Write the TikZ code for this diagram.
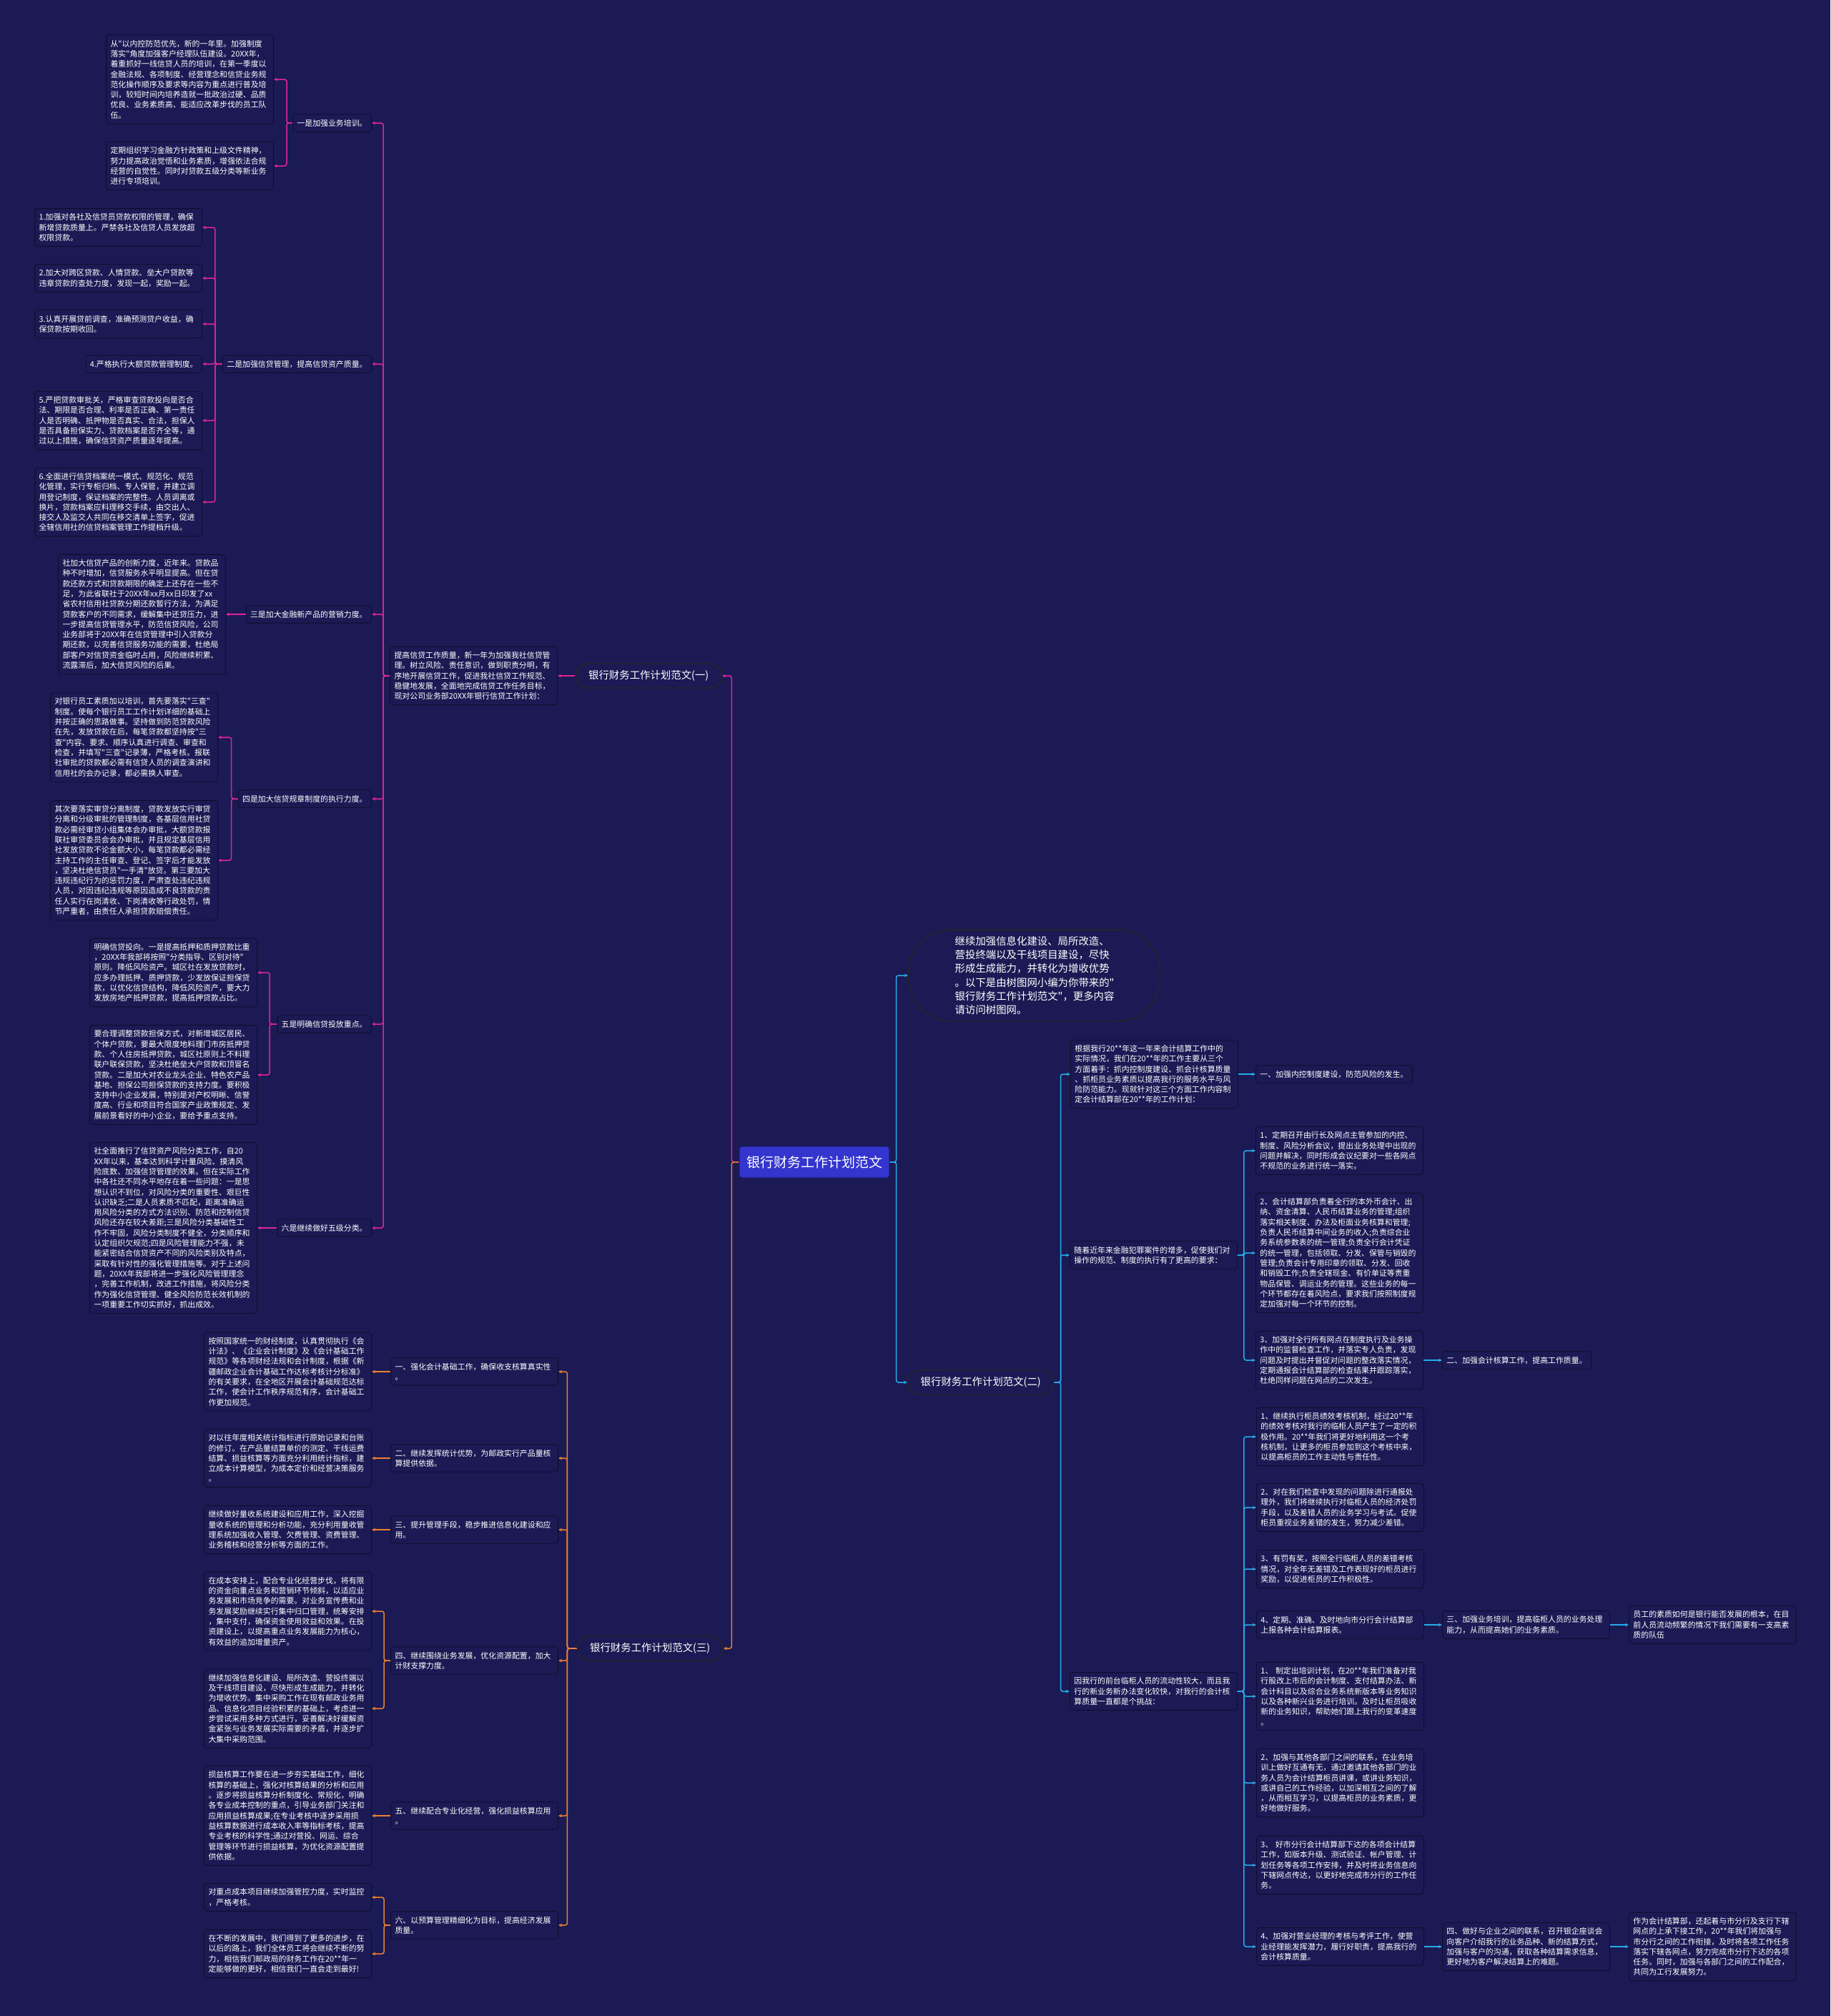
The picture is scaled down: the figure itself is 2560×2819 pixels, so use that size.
\documentclass[tikz,border=0pt]{standalone}
\usepackage{fontspec}
\usepackage{tikz}
\usetikzlibrary{arrows.meta}
\newfontfamily\cjk{Noto Sans CJK SC}
\definecolor{bg}{RGB}{27,26,84}
\definecolor{boxline}{RGB}{14,14,46}
\definecolor{branchone}{RGB}{222,38,150}
\definecolor{branchtwo}{RGB}{38,172,232}
\definecolor{branchthree}{RGB}{236,128,48}
\definecolor{rootblue}{RGB}{52,52,206}
\newcommand{\leaffont}{\cjk\fontsize{10.9}{14.3}\selectfont}
\newcommand{\topicfont}{\cjk\fontsize{14.4}{19.3}\selectfont}

\begin{document}
\begin{tikzpicture}[
    x=1pt, y=-1pt,
    every node/.style={text=white},
    leaf/.style={draw=boxline, fill=bg, line width=0.9pt, rounded corners=4pt,
                 font=\leaffont, align=left, inner xsep=6pt, inner ysep=7pt},
    wide/.style={leaf, text width=222pt},
    topic/.style={draw=black!85, fill=bg, line width=1.4pt, rounded corners=17pt,
                  font=\topicfont, minimum height=34pt, inner xsep=18pt},
    link/.style={line width=1.5pt, rounded corners=3pt, -{Stealth[length=5pt, width=4.5pt]}},
    onelink/.style={link, draw=branchone},
    twolink/.style={link, draw=branchtwo},
    threelink/.style={link, draw=branchthree},
]
\useasboundingbox (0,0) rectangle (2560,2819);
\fill[bg] (0,0) rectangle (2560,2819);

% root and first level
\node[draw=rootblue!55!black, fill=rootblue, rounded corners=4pt, line width=1.2pt,
      font=\cjk\fontsize{19}{22}\selectfont, minimum width=210pt, minimum height=44pt]
      (R) at (1139,1625) {银行财务工作计划范文};
\node[topic, anchor=east] (T1) at (1010,945) {银行财务工作计划范文(一)};
\node[topic, anchor=west] (T2) at (1269,1933) {银行财务工作计划范文(二)};
\node[topic, anchor=east] (T3) at (1012,2305) {银行财务工作计划范文(三)};
\node[draw=black!85, fill=bg, line width=1.4pt, rounded corners=60pt, font=\topicfont,
      text width=222pt, align=left, inner xsep=65pt, inner ysep=9pt, anchor=west]
      (I) at (1270,1364) {继续加强信息化建设、局所改造、\\
营投终端以及干线项目建设，尽快\\
形成生成能力，并转化为增收优势\\
。以下是由树图网小编为你带来的"\\
银行财务工作计划范文"，更多内容\\
请访问树图网。};

\draw[onelink] (R.west) -- ++(-10,0) |- (T1.east);
\draw[threelink] (R.west) -- ++(-10,0) |- (T3.east);
\draw[twolink] (R.east) -- ++(9,0) |- (I.west);
\draw[twolink] (R.east) -- ++(9,0) |- (T2.east -| T2.west);

% branch (一)
\node[wide, anchor=east] (P) at (780,945) {提高信贷工作质量，新一年为加强我社信贷管\\
理。树立风险、责任意识，做到职责分明，有\\
序地开展信贷工作，促进我社信贷工作规范、\\
稳健地发展，全面地完成信贷工作任务目标，\\
现对公司业务部20XX年银行信贷工作计划：};
\node[leaf, anchor=east] (N1) at (520,172) {一是加强业务培训。};
\node[leaf, anchor=east] (N2) at (520,509) {二是加强信贷管理，提高信贷资产质量。};
\node[leaf, anchor=east] (N3) at (520,859) {三是加大金融新产品的营销力度。};
\node[leaf, anchor=east] (N4) at (520,1117) {四是加大信贷规章制度的执行力度。};
\node[leaf, anchor=east] (N5) at (520,1432) {五是明确信贷投放重点。};
\node[leaf, anchor=east] (N6) at (520,1717) {六是继续做好五级分类。};

\node[wide, anchor=east] (A1) at (383,111) {从"以内控防范优先，新的一年里。加强制度\\
落实"角度加强客户经理队伍建设。20XX年，\\
着重抓好一线信贷人员的培训，在第一季度以\\
金融法规、各项制度、经营理念和信贷业务规\\
范化操作顺序及要求等内容为重点进行普及培\\
训，较短时间内培养造就一批政治过硬、品质\\
优良、业务素质高、能适应改革步伐的员工队\\
伍。};
\node[wide, anchor=east] (A2) at (383,232) {定期组织学习金融方针政策和上级文件精神，\\
努力提高政治觉悟和业务素质，增强依法合规\\
经营的自觉性。同时对贷款五级分类等新业务\\
进行专项培训。};

\node[wide, anchor=east] (B1) at (283,318) {1.加强对各社及信贷员贷款权限的管理，确保\\
新增贷款质量上。严禁各社及信贷人员发放超\\
权限贷款。};
\node[wide, anchor=east] (B2) at (283,389) {2.加大对跨区贷款、人情贷款、垒大户贷款等\\
违章贷款的查处力度，发现一起，奖励一起。};
\node[wide, anchor=east] (B3) at (283,453) {3.认真开展贷前调查，准确预测贷户收益，确\\
保贷款按期收回。};
\node[leaf, anchor=east] (B4) at (283,509) {4.严格执行大额贷款管理制度。};
\node[wide, anchor=east] (B5) at (283,588) {5.严把贷款审批关，严格审查贷款投向是否合\\
法、期限是否合理、利率是否正确、第一责任\\
人是否明确、抵押物是否真实、合法，担保人\\
是否具备担保实力、贷款档案是否齐全等，通\\
过以上措施，确保信贷资产质量逐年提高。};
\node[wide, anchor=east] (B6) at (283,702) {6.全面进行信贷档案统一模式、规范化、规范\\
化管理，实行专柜归档、专人保管，并建立调\\
用登记制度，保证档案的完整性。人员调离或\\
换片，贷款档案应料理移交手续，由交出人、\\
接交人及监交人共同在移交清单上签字，促进\\
全辖信用社的信贷档案管理工作提档升级。};

\node[wide, anchor=east] (C1) at (316,859) {社加大信贷产品的创新力度，近年来。贷款品\\
种不时增加，信贷服务水平明显提高。但在贷\\
款还款方式和贷款期限的确定上还存在一些不\\
足，为此省联社于20XX年xx月xx日印发了xx\\
省农村信用社贷款分期还款暂行方法，为满足\\
贷款客户的不同需求，缓解集中还贷压力，进\\
一步提高信贷管理水平，防范信贷风险，公司\\
业务部将于20XX年在信贷管理中引入贷款分\\
期还款，以完善信贷服务功能的需要，杜绝局\\
部客户对信贷资金临时占用，风险继续积累、\\
流露滞后，加大信贷风险的后果。};

\node[wide, anchor=east] (D1) at (305,1031) {对银行员工素质加以培训，首先要落实"三查"\\
制度。使每个银行员工工作计划详细的基础上\\
并按正确的思路做事。坚持做到防范贷款风险\\
在先，发放贷款在后，每笔贷款都坚持按"三\\
查"内容、要求、顺序认真进行调查、审查和\\
检查，并填写"三查"记录薄，严格考核。报联\\
社审批的贷款都必需有信贷人员的调查演讲和\\
信用社的会办记录，都必需换人审查。};
\node[wide, anchor=east] (D2) at (305,1203) {其次要落实审贷分离制度，贷款发放实行审贷\\
分离和分级审批的管理制度，各基层信用社贷\\
款必需经审贷小组集体会办审批，大额贷款报\\
联社审贷委员会会办审批，并且规定基层信用\\
社发放贷款不论金额大小，每笔贷款都必需经\\
主持工作的主任审查、登记、签字后才能发放\\
，坚决杜绝信贷员"一手清"放贷。第三要加大\\
违规违纪行为的惩罚力度，严肃查处违纪违规\\
人员，对因违纪违规等原因造成不良贷款的责\\
任人实行在岗清收、下岗清收等行政处罚，情\\
节严重者，由责任人承担贷款赔偿责任。};

\node[wide, anchor=east] (E1) at (360,1360) {明确信贷投向。一是提高抵押和质押贷款比重\\
，20XX年我部将按照"分类指导、区别对待"\\
原则。降低风险资产。城区社在发放贷款时，\\
应多办理抵押、质押贷款，少发放保证担保贷\\
款，以优化信贷结构，降低风险资产，要大力\\
发放房地产抵押贷款，提高抵押贷款占比。};
\node[wide, anchor=east] (E2) at (360,1503) {要合理调整贷款担保方式，对新增城区居民、\\
个体户贷款，要最大限度地料理门市房抵押贷\\
款、个人住房抵押贷款，城区社原则上不料理\\
联户联保贷款，坚决杜绝垒大户贷款和顶冒名\\
贷款。二是加大对农业龙头企业、特色农产品\\
基地、担保公司担保贷款的支持力度。要积极\\
支持中小企业发展，特别是对产权明晰、信誉\\
度高、行业和项目符合国家产业政策规定、发\\
展前景看好的中小企业，要给予重点支持。};

\node[wide, anchor=east] (F1) at (360,1717) {社全面推行了信贷资产风险分类工作，自20\\
XX年以来，基本达到科学计量风险、摸清风\\
险底数、加强信贷管理的效果。但在实际工作\\
中各社还不同水平地存在着一些问题：一是思\\
想认识不到位，对风险分类的重要性、艰巨性\\
认识缺乏;二是人员素质不匹配，距离准确运\\
用风险分类的方式方法识别、防范和控制信贷\\
风险还存在较大差距;三是风险分类基础性工\\
作不牢固，风险分类制度不健全，分类顺序和\\
认定组织欠规范;四是风险管理能力不强，未\\
能紧密结合信贷资产不同的风险类别及特点，\\
采取有针对性的强化管理措施等。对于上述问\\
题，20XX年我部将进一步强化风险管理理念\\
，完善工作机制，改进工作措施，将风险分类\\
作为强化信贷管理、健全风险防范长效机制的\\
一项重要工作切实抓好，抓出成效。};

\draw[onelink] (T1.west) -- (P.east);
\foreach \n in {N1,N2,N3,N4,N5,N6}
    \draw[onelink] (P.west) -- ++(-9,0) |- (\n.east);
\foreach \n in {A1,A2}
    \draw[onelink] (N1.west) -- ++(-8,0) |- (\n.east);
\foreach \n in {B1,B2,B3,B4,B5,B6}
    \draw[onelink] (N2.west) -- ++(-10,0) |- (\n.east);
\draw[onelink] (N3.west) -- (C1.east);
\foreach \n in {D1,D2}
    \draw[onelink] (N4.west) -- ++(-9,0) |- (\n.east);
\foreach \n in {E1,E2}
    \draw[onelink] (N5.west) -- ++(-10,0) |- (\n.east);
\draw[onelink] (N6.west) -- (F1.east);

% branch (三)
\node[wide, anchor=east] (G1) at (781,1918) {一、强化会计基础工作，确保收支核算真实性\\
。};
\node[wide, anchor=east] (G2) at (781,2039) {二、继续发挥统计优势，为邮政实行产品量核\\
算提供依据。};
\node[wide, anchor=east] (G3) at (781,2139) {三、提升管理手段，稳步推进信息化建设和应\\
用。};
\node[wide, anchor=east] (G4) at (781,2322) {四、继续围绕业务发展，优化资源配置，加大\\
计财支撑力度。};
\node[wide, anchor=east] (G5) at (781,2539) {五、继续配合专业化经营，强化损益核算应用\\
。};
\node[wide, anchor=east] (G6) at (781,2692) {六、以预算管理精细化为目标，提高经济发展\\
质量。};

\node[wide, anchor=east] (H1) at (520,1918) {按照国家统一的财经制度，认真贯彻执行《会\\
计法》、《企业会计制度》及《会计基础工作\\
规范》等各项财经法规和会计制度，根据《新\\
疆邮政企业会计基础工作达标考核计分标准》\\
的有关要求，在全地区开展会计基础规范达标\\
工作，使会计工作秩序规范有序，会计基础工\\
作更加规范。};
\node[wide, anchor=east] (H2) at (520,2039) {对以往年度相关统计指标进行原始记录和台账\\
的修订。在产品量结算单价的测定、干线运费\\
结算、损益核算等方面充分利用统计指标，建\\
立成本计算模型，为成本定价和经营决策服务\\
。};
\node[wide, anchor=east] (H3) at (520,2139) {继续做好量收系统建设和应用工作，深入挖掘\\
量收系统的管理和分析功能，充分利用量收管\\
理系统加强收入管理、欠费管理、资费管理、\\
业务稽核和经营分析等方面的工作。};
\node[wide, anchor=east] (H4) at (520,2253) {在成本安排上，配合专业化经营步伐，将有限\\
的资金向重点业务和营销环节倾斜，以适应业\\
务发展和市场竞争的需要。对业务宣传费和业\\
务发展奖励继续实行集中归口管理，统筹安排\\
，集中支付，确保资金使用效益和效果。在投\\
资建设上，以提高重点业务发展能力为核心，\\
有效益的追加增量资产。};
\node[wide, anchor=east] (H5) at (520,2389) {继续加强信息化建设、局所改造、营投终端以\\
及干线项目建设，尽快形成生成能力，并转化\\
为增收优势。集中采购工作在现有邮政业务用\\
品、信息化项目经验积累的基础上，考虑进一\\
步尝试采用多种方式进行，妥善解决好缓解资\\
金紧张与业务发展实际需要的矛盾，并逐步扩\\
大集中采购范围。};
\node[wide, anchor=east] (H6) at (520,2539) {损益核算工作要在进一步夯实基础工作，细化\\
核算的基础上，强化对核算结果的分析和应用\\
。逐步将损益核算分析制度化、常规化，明确\\
各专业成本控制的重点，引导业务部门关注和\\
应用损益核算成果;在专业考核中逐步采用损\\
益核算数据进行成本收入率等指标考核，提高\\
专业考核的科学性;通过对营投、网运、综合\\
管理等环节进行损益核算，为优化资源配置提\\
供依据。};
\node[wide, anchor=east] (H7) at (520,2653) {对重点成本项目继续加强管控力度，实时监控\\
，严格考核。};
\node[wide, anchor=east] (H8) at (520,2732) {在不断的发展中，我们得到了更多的进步，在\\
以后的路上，我们全体员工将会继续不断的努\\
力，相信我们邮政局的财务工作在20**年一\\
定能够做的更好，相信我们一直会走到最好!};

\foreach \n in {G1,G2,G3,G4,G5,G6}
    \draw[threelink] (T3.west) -- ++(-13,0) |- (\n.east);
\draw[threelink] (G1.west) -- (H1.east);
\draw[threelink] (G2.west) -- (H2.east);
\draw[threelink] (G3.west) -- (H3.east);
\draw[threelink] (G4.west) -- ++(-9,0) |- (H4.east);
\draw[threelink] (G4.west) -- ++(-9,0) |- (H5.east);
\draw[threelink] (G5.west) -- (H6.east);
\draw[threelink] (G6.west) -- ++(-9,0) |- (H7.east);
\draw[threelink] (G6.west) -- ++(-9,0) |- (H8.east);

% branch (二)
\node[wide, anchor=west] (S1) at (1497,1502) {根据我行20**年这一年来会计结算工作中的\\
实际情况，我们在20**年的工作主要从三个\\
方面着手：抓内控制度建设、抓会计核算质量\\
、抓柜员业务素质以提高我行的服务水平与风\\
险防范能力。现就针对这三个方面工作内容制\\
定会计结算部在20**年的工作计划：};
\node[wide, anchor=west] (S2) at (1496,1755) {随着近年来金融犯罪案件的增多，促使我们对\\
操作的规范、制度的执行有了更高的要求：};
\node[wide, anchor=west] (S3) at (1496,2365) {因我行的前台临柜人员的流动性较大，而且我\\
行的新业务新办法变化较快，对我行的会计核\\
算质量一直都是个挑战：};

\node[leaf, anchor=west] (K1) at (1756,1502) {一、加强内控制度建设，防范风险的发生。};
\node[wide, anchor=west] (K2) at (1756,1609) {1、定期召开由行长及网点主管参加的内控、\\
制度、风险分析会议，提出业务处理中出现的\\
问题并解决，同时形成会议纪要对一些各网点\\
不规范的业务进行统一落实。};
\node[wide, anchor=west] (K3) at (1756,1752) {2、会计结算部负责着全行的本外币会计、出\\
纳、资金清算、人民币结算业务的管理;组织\\
落实相关制度、办法及柜面业务核算和管理;\\
负责人民币结算中间业务的收入;负责综合业\\
务系统参数表的统一管理;负责全行会计凭证\\
的统一管理，包括领取、分发、保管与销毁的\\
管理;负责会计专用印章的领取、分发、回收\\
和销毁工作;负责全辖现金、有价单证等贵重\\
物品保管、调运业务的管理。这些业务的每一\\
个环节都存在着风险点，要求我们按照制度规\\
定加强对每一个环节的控制。};
\node[wide, anchor=west] (K4) at (1756,1902) {3、加强对全行所有网点在制度执行及业务操\\
作中的监督检查工作，并落实专人负责，发现\\
问题及时提出并督促对问题的整改落实情况，\\
定期通报会计结算部的检查结果并跟踪落实，\\
杜绝同样问题在网点的二次发生。};
\node[leaf, anchor=west] (K5) at (2017,1902) {二、加强会计核算工作，提高工作质量。};

\node[wide, anchor=west] (M1) at (1757,2009) {1、继续执行柜员绩效考核机制，经过20**年\\
的绩效考核对我行的临柜人员产生了一定的积\\
极作用。20**年我们将更好地利用这一个考\\
核机制，让更多的柜员参加到这个考核中来，\\
以提高柜员的工作主动性与责任性。};
\node[wide, anchor=west] (M2) at (1757,2108) {2、对在我们检查中发现的问题除进行通报处\\
理外，我们将继续执行对临柜人员的经济处罚\\
手段，以及差错人员的业务学习与考试。促使\\
柜员重视业务差错的发生，努力减少差错。};
\node[wide, anchor=west] (M3) at (1757,2194) {3、有罚有奖，按照全行临柜人员的差错考核\\
情况，对全年无差错及工作表现好的柜员进行\\
奖励，以促进柜员的工作积极性。};
\node[wide, anchor=west] (M4) at (1757,2272) {4、定期、准确、及时地向市分行会计结算部\\
上报各种会计结算报表。};
\node[wide, anchor=west] (M5) at (1757,2372) {1、~制定出培训计划，在20**年我们准备对我\\
行股改上市后的会计制度、支付结算办法、新\\
会计科目以及综合业务系统新版本等业务知识\\
以及各种新兴业务进行培训。及时让柜员吸收\\
新的业务知识，帮助她们跟上我行的变革速度\\
。};
\node[wide, anchor=west] (M6) at (1757,2493) {2、加强与其他各部门之间的联系，在业务培\\
训上做好互通有无，通过邀请其他各部门的业\\
务人员为会计结算柜员讲课，或讲业务知识，\\
或讲自己的工作经验，以加深相互之间的了解\\
，从而相互学习，以提高柜员的业务素质，更\\
好地做好服务。};
\node[wide, anchor=west] (M7) at (1757,2608) {3、~好市分行会计结算部下达的各项会计结算\\
工作，如版本升级、测试验证、帐户管理、计\\
划任务等各项工作安排，并及时将业务信息向\\
下辖网点传达，以更好地完成市分行的工作任\\
务。};
\node[wide, anchor=west] (M8) at (1757,2722) {4、加强对营业经理的考核与考评工作，使营\\
业经理能发挥潜力，履行好职责，提高我行的\\
会计核算质量。};

\node[wide, anchor=west] (Q1) at (2017,2272) {三、加强业务培训，提高临柜人员的业务处理\\
能力，从而提高她们的业务素质。};
\node[wide, anchor=west] (Q2) at (2278,2272) {员工的素质如何是银行能否发展的根本，在目\\
前人员流动频繁的情况下我们需要有一支高素\\
质的队伍};
\node[wide, anchor=west] (Q3) at (2017,2722) {四、做好与企业之间的联系，召开银企座谈会\\
向客户介绍我行的业务品种、新的结算方式，\\
加强与客户的沟通，获取各种结算需求信息，\\
更好地为客户解决结算上的难题。};
\node[wide, anchor=west] (Q4) at (2278,2722) {作为会计结算部，还起着与市分行及支行下辖\\
网点的上承下接工作，20**年我们将加强与\\
市分行之间的工作衔接，及时将各项工作任务\\
落实下辖各网点，努力完成市分行下达的各项\\
任务。同时，加强与各部门之间的工作配合，\\
共同为工行发展努力。};

\foreach \n in {S1,S2,S3}
    \draw[twolink] (T2.east) -- ++(9,0) |- (\n.west);
\draw[twolink] (S1.east) -- (K1.west);
\foreach \n in {K2,K3,K4}
    \draw[twolink] (S2.east) -- ++(9,0) |- (\n.west);
\draw[twolink] (K4.east) -- (K5.west);
\foreach \n in {M1,M2,M3,M4,M5,M6,M7,M8}
    \draw[twolink] (S3.east) -- ++(9,0) |- (\n.west);
\draw[twolink] (M4.east) -- (Q1.west);
\draw[twolink] (Q1.east) -- (Q2.west);
\draw[twolink] (M8.east) -- (Q3.west);
\draw[twolink] (Q3.east) -- (Q4.west);

\end{tikzpicture}
\end{document}
